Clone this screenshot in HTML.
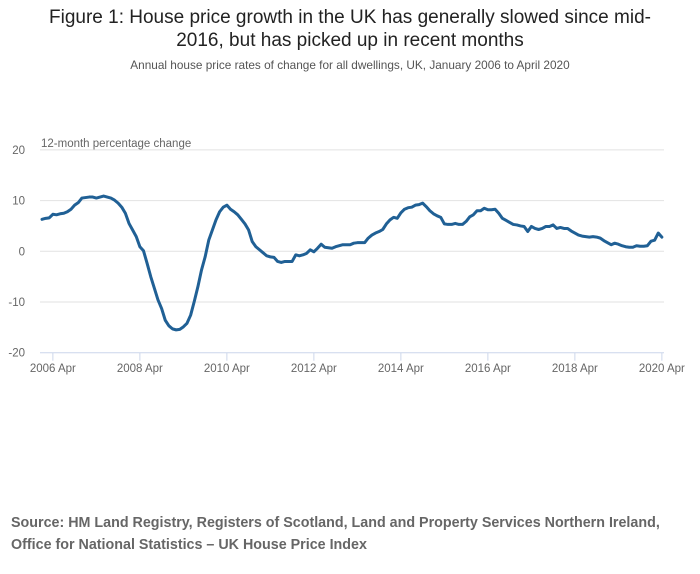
<!DOCTYPE html>
<html><head><meta charset="utf-8">
<style>
body{margin:0;background:#fff;width:700px;height:574px;overflow:hidden;font-family:"Liberation Sans",sans-serif;}
#title{position:absolute;top:6px;left:0;width:700px;text-align:center;font-size:19px;line-height:23px;color:#222;}
#sub{position:absolute;top:58px;left:0;width:700px;text-align:center;font-size:11.8px;color:#555;}
#src{position:absolute;top:512px;left:11px;font-size:14.3px;line-height:22px;font-weight:bold;color:#666;white-space:nowrap;}
svg{position:absolute;left:0;top:0;}
</style></head><body>
<div id="title">Figure 1: House price growth in the UK has generally slowed since mid-<br>2016, but has picked up in recent months</div>
<div id="sub">Annual house price rates of change for all dwellings, UK, January 2006 to April 2020</div>
<svg id="chart" width="700" height="574"></svg>
<div id="src">Source: HM Land Registry, Registers of Scotland, Land and Property Services Northern Ireland,<br>Office for National Statistics – UK House Price Index</div>
<script>
const startYear = 2006, startMonth = 0;
const yTicks = [20, 10, 0, -10, -20];
const xTickLabels = ["2006 Apr","2008 Apr","2010 Apr","2012 Apr","2014 Apr","2016 Apr","2018 Apr","2020 Apr"];
const xTickMonths = [3,27,51,75,99,123,147,171];
const values = [6.3,6.5,6.6,7.3,7.2,7.4,7.5,7.8,8.3,9.1,9.6,10.5,10.6,10.7,10.7,10.5,10.7,10.9,10.7,10.5,
10.1,9.5,8.7,7.5,5.5,4.2,2.9,0.9,0.1,-2.4,-5.0,-7.3,-9.6,-11.3,-13.6,-14.7,-15.3,-15.5,-15.4,-14.9,
-14.2,-12.6,-9.9,-7.0,-3.7,-1.1,2.2,4.2,6.2,7.8,8.7,9.1,8.3,7.8,7.2,6.3,5.4,4.2,1.9,0.9,
0.3,-0.3,-0.9,-1.1,-1.2,-2.0,-2.2,-2.0,-2.0,-2.0,-0.7,-0.9,-0.7,-0.4,0.3,-0.1,0.6,1.4,0.8,0.7,
0.6,0.9,1.1,1.3,1.3,1.3,1.6,1.7,1.7,1.7,2.6,3.2,3.6,3.9,4.3,5.4,6.2,6.7,6.5,7.6,
8.3,8.6,8.7,9.1,9.2,9.5,8.8,8.0,7.4,7.0,6.7,5.4,5.3,5.3,5.5,5.3,5.3,5.9,6.8,7.2,
8.0,8.0,8.5,8.2,8.2,8.3,7.5,6.5,6.1,5.7,5.3,5.2,5.0,4.9,3.9,4.9,4.5,4.3,4.5,4.9,
4.9,5.2,4.5,4.7,4.5,4.5,4.0,3.6,3.2,3.0,2.9,2.8,2.9,2.8,2.6,2.1,1.7,1.3,1.6,1.4,
1.1,0.9,0.8,0.8,1.1,1.0,1.0,1.1,2.0,2.2,3.6,2.8];

const NS="http://www.w3.org/2000/svg";
const svg=document.getElementById('chart');
const x0=42, pxPerMonth=3.625, plotRight=664;
const yZero=251.3, pxPerUnit=5.07;
function xScale(m){return x0+m*pxPerMonth;}
function yScale(v){return yZero-v*pxPerUnit;}
function mk(tag,attrs){const e=document.createElementNS(NS,tag);for(const k in attrs)e.setAttribute(k,attrs[k]);svg.appendChild(e);return e;}

yTicks.forEach(t=>{
  const y=yScale(t);
  if(t!==-20){
    const g=mk('line',{x1:40,x2:plotRight,y1:y,y2:y,stroke:'#e2e2e2','stroke-width':1});
    
    
  }
  const tx=mk('text',{x:25,y:y+4,'text-anchor':'end','font-size':11.5,fill:'#666','font-family':'Liberation Sans, sans-serif'});
  tx.textContent=t;
  
  
});
const ax=mk('line',{x1:40,x2:plotRight,y1:yScale(-20),y2:yScale(-20),stroke:'#ccd6eb','stroke-width':1});


xTickLabels.forEach((lab,i)=>{
  const x=xScale(xTickMonths[i]);
  const tk=mk('line',{x1:x,x2:x,y1:yScale(-20),y2:yScale(-20)+8,stroke:'#ccd6eb','stroke-width':1});
  
  
  const tx=mk('text',{x:x,y:372,'text-anchor':'middle','font-size':11.5,fill:'#666','font-family':'Liberation Sans, sans-serif'});
  tx.textContent=lab;
  
  
});
const yt=mk('text',{x:41,y:147,'font-size':11.5,fill:'#666','font-family':'Liberation Sans, sans-serif'});
yt.textContent='12-month percentage change';



const d=values.map((v,i)=>(i?'L':'M')+xScale(i).toFixed(2)+','+yScale(v).toFixed(2)).join(' ');
const p=mk('path',{d:d,fill:'none',stroke:'#206095','stroke-width':3,'stroke-linejoin':'round','stroke-linecap':'round'});


</script>
</body></html>
